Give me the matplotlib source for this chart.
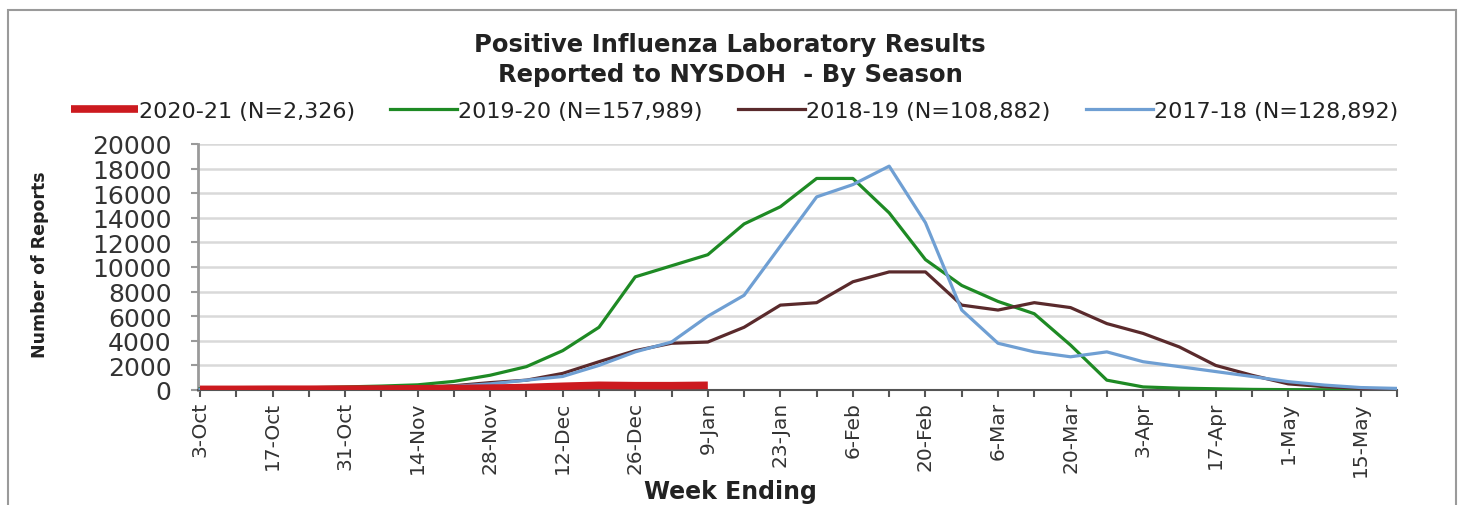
import matplotlib
matplotlib.use("Agg")
import matplotlib.pyplot as plt
from matplotlib.patches import Rectangle

# week ending labels (3-Oct .. 22-May)
weeks = ["3-Oct", "10-Oct", "17-Oct", "24-Oct", "31-Oct", "7-Nov", "14-Nov", "21-Nov",
         "28-Nov", "5-Dec", "12-Dec", "19-Dec", "26-Dec", "2-Jan", "9-Jan", "16-Jan",
         "23-Jan", "30-Jan", "6-Feb", "13-Feb", "20-Feb", "27-Feb", "6-Mar", "13-Mar",
         "20-Mar", "27-Mar", "3-Apr", "10-Apr", "17-Apr", "24-Apr", "1-May", "8-May",
         "15-May", "22-May"]

season_2020_21 = [50, 50, 60, 60, 70, 80, 100, 120, 150, 200, 300, 380, 350, 350, 380]
season_2019_20 = [100, 120, 150, 180, 250, 320, 420, 700, 1200, 1900, 3200, 5100, 9200,
                  10100, 11000, 13500, 14900, 17200, 17200, 14400, 10600, 8500, 7200,
                  6200, 3650, 800, 250, 150, 100, 50, 30, 20, 20, 20]
season_2018_19 = [50, 50, 60, 70, 90, 120, 200, 350, 600, 800, 1350, 2300, 3200, 3800,
                  3900, 5100, 6900, 7100, 8800, 9600, 9600, 6900, 6500, 7100, 6700, 5400,
                  4600, 3500, 2000, 1200, 500, 270, 130, 60]
season_2017_18 = [50, 50, 50, 60, 80, 100, 150, 300, 500, 800, 1100, 2000, 3100, 3900,
                  6000, 7700, 11700, 15700, 16700, 18200, 13600, 6500, 3800, 3100, 2700,
                  3100, 2300, 1900, 1500, 1100, 680, 400, 200, 130]

labels = ["2020-21 (N=2,326)", "2019-20 (N=157,989)",
          "2018-19 (N=108,882)", "2017-18 (N=128,892)"]

W, H = 1469, 506
fig = plt.figure(figsize=(W / 100, H / 100), dpi=100)
fig.patch.set_facecolor("white")

# outer chart border
fig.patches.append(Rectangle((8 / W, -0.05), (1456 - 8) / W, 1.05 - 11 / H,
                             transform=fig.transFigure, fill=False,
                             edgecolor="#9a9a9a", linewidth=1.5))

ax = fig.add_axes([198 / W, 1 - 391 / H, (1397 - 198) / W, (391 - 145) / H])

x = list(range(len(weeks)))
l_green, = ax.plot(x, season_2019_20, color="#1e8a24", lw=2.3, zorder=3)
l_brown, = ax.plot(x, season_2018_19, color="#5a2a2c", lw=2.3, zorder=3)
l_blue, = ax.plot(x, season_2017_18, color="#6f9fd3", lw=2.3, zorder=3)
l_red, = ax.plot(x[:len(season_2020_21)], season_2020_21, color="#cc1a1f",
                 lw=5.5, solid_capstyle="butt", zorder=4)

ax.set_xlim(-0.055, 33.0)
ax.set_ylim(0, 20000)
ax.set_yticks(range(0, 20001, 2000))
ax.set_yticklabels([str(v) for v in range(0, 20001, 2000)], fontsize=18, color="#333333")
ax.set_xticks(x)
ax.set_xticklabels([w if i % 2 == 0 else "" for i, w in enumerate(weeks)],
                   rotation=90, fontsize=14.5, color="#333333")

ax.grid(axis="y", color="#d9d9d9", lw=1.8)
ax.set_axisbelow(True)
for s in ["top", "right"]:
    ax.spines[s].set_visible(False)
ax.spines["left"].set_color("#9a9a9a")
ax.spines["left"].set_linewidth(2)
ax.spines["bottom"].set_color("#555555")
ax.spines["bottom"].set_linewidth(1.5)
ax.tick_params(axis="y", length=5, pad=14, color="#9a9a9a", width=1.5)
ax.tick_params(axis="x", length=5, pad=3, color="#555555", width=1.5)

fig.text(0.497, 1 - 45 / H, "Positive Influenza Laboratory Results", ha="center",
         va="center", fontsize=17.5, fontweight="bold", color="#222222")
fig.text(0.497, 1 - 75 / H, "Reported to NYSDOH  - By Season", ha="center",
         va="center", fontsize=17.5, fontweight="bold", color="#222222")

fig.legend([l_red, l_green, l_brown, l_blue], labels, loc="center",
           bbox_to_anchor=(0.5, 1 - 112 / H), ncol=4, frameon=False,
           fontsize=16, handlelength=3.0, handletextpad=0.05, columnspacing=1.6,
           labelcolor="#222222")

fig.text(40 / W, 1 - 265 / H, "Number of Reports", rotation=90, ha="center",
         va="center", fontsize=12.5, fontweight="bold", color="#222222")
fig.text(730 / W, 1 - 492 / H, "Week Ending", ha="center", va="center",
         fontsize=17, fontweight="bold", color="#222222")

fig.savefig("out.png", dpi=100)
